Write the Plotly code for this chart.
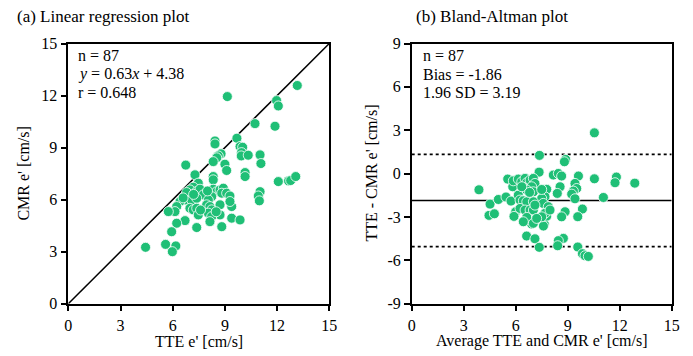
import plotly.graph_objects as go

# ---------------- data: (a) linear regression ----------------
tte = [9.69, 8.43, 8.43, 9.87, 10.02, 9.96, 9.94, 10.34, 11.02, 11.07,
       8.78, 8.62, 8.53, 8.33, 6.75, 9.00, 9.10, 10.16, 10.16, 7.28,
       8.33, 8.33, 12.07,
       7.47, 7.18, 6.99, 6.80, 7.38, 7.57, 7.76, 8.33, 8.53, 8.72,
       8.91, 8.82, 9.10, 9.29, 8.24, 8.05, 6.71, 6.42, 7.09, 7.38,
       11.02, 10.92, 10.98,
       6.23, 6.13, 5.75, 6.99, 7.18, 7.38, 7.47, 7.95, 8.14, 8.24,
       8.05, 8.72, 9.39, 9.29, 8.72, 8.24, 8.14, 6.71, 6.23, 5.94,
       7.38, 8.82, 9.39, 9.87,
       13.16, 9.14, 11.97, 12.07, 10.73, 11.88,
       12.66, 12.78, 13.07,
       5.59, 6.18, 5.98, 4.44,
       7.20, 6.60, 8.00, 7.60, 8.50]
cmr = [9.54, 9.38, 9.21, 9.06, 9.02, 8.71, 8.52, 8.56, 8.58, 8.08,
       8.64, 8.52, 8.41, 8.19, 7.99, 8.04, 7.68, 7.56, 7.33, 7.43,
       7.33, 7.14, 7.04,
       6.95, 6.72, 6.56, 6.41, 6.46, 6.60, 6.27, 6.60, 6.46, 6.56,
       6.66, 6.37, 6.37, 6.21, 6.17, 5.98, 5.98, 5.89, 5.98, 6.08,
       6.46, 6.21, 5.93,
       5.60, 5.31, 5.31, 5.50, 5.41, 5.50, 5.12, 5.70, 5.60, 5.41,
       5.22, 5.70, 5.60, 5.89, 5.12, 5.02, 4.73, 4.79, 4.64, 4.15,
       4.39, 4.44, 4.93, 4.83,
       12.58, 11.94, 11.71, 11.40, 10.38, 10.23,
       7.08, 7.10, 7.33,
       3.42, 3.33, 3.00, 3.25,
       6.30, 6.10, 6.50, 5.40, 5.30]

# ---------------- data: (b) Bland-Altman ----------------
ba_mean = [10.54, 7.37, 8.88, 8.81, 7.35, 10.54, 9.62, 11.81, 11.73, 12.87,
           11.06, 9.85, 9.58, 9.42, 9.52, 9.33, 9.23, 9.42, 8.75, 8.46,
           8.42, 9.58, 9.85, 10.00, 10.19, 6.63, 6.92, 7.65, 7.60, 7.79,
           3.88, 4.52, 4.46, 4.77, 5.00, 5.44, 5.73, 5.54, 5.83, 6.00,
           5.90, 5.86,
           6.15, 6.35, 6.54, 6.64, 6.83, 7.02, 7.11, 6.92, 6.44, 6.64,
           7.02, 7.79, 7.69, 7.50, 7.59, 7.88, 6.15, 6.25, 6.44, 6.64,
           7.02, 6.25, 6.54, 6.83, 7.02, 7.11, 7.69, 7.98, 7.50, 6.64,
           6.44, 7.02, 7.11, 7.36, 8.17, 8.46, 8.65, 8.56, 8.40, 8.85,
           8.65, 6.35, 7.21, 7.50, 6.80]
ba_diff = [2.82, 1.26, 0.98, 0.82, 0.10, -0.36, -0.17, -0.24, -0.63, -0.66,
           -1.65, -2.45, -2.98, -0.68, -1.03, -1.21, -1.42, -1.74, -4.48, -4.64,
           -4.99, -5.08, -5.54, -5.68, -5.73, -4.32, -3.49, -3.49, -3.63, -2.94,
           -1.12, -2.11, -2.89, -2.78, -1.79, -1.62, -1.90, -0.38, -0.91, -2.64,
           -2.96, -0.50,
           -0.38, -0.56, -0.33, -0.63, -0.45, -0.33, -0.68, -0.91, -0.96, -1.14,
           -1.26, -1.09, -1.60, -1.72, -2.06, -2.29, -1.49, -1.83, -1.88, -1.95,
           -1.95, -2.41, -2.52, -2.52, -2.52, -2.18, -2.75, -2.52, -2.99, -3.03,
           -3.33, -3.44, -4.51, -5.10, -0.10, 0.01, -0.17, -0.91, -1.37, -2.64,
           -2.99, -0.91, -3.10, -1.10, -1.30]

bias = -1.86
sd196 = 3.19

x_ticks = [0, 3, 6, 9, 12, 15]
y_ticks_a = [0, 3, 6, 9, 12, 15]
y_ticks_b = [-9, -6, -3, 0, 3, 6, 9]
y_ticktext_b = [str(v) for v in y_ticks_b]

GREEN = "#1fbf76"
FONT = "Liberation Serif"

fig = go.Figure()

marker = dict(size=10, color=GREEN, line=dict(color="white", width=0.8))

# identity line
fig.add_trace(go.Scatter(x=[0, 15], y=[0, 15], mode="lines",
                         line=dict(color="black", width=1.5),
                         xaxis="x", yaxis="y", showlegend=False, hoverinfo="skip"))
fig.add_trace(go.Scatter(x=tte, y=cmr, mode="markers", marker=marker,
                         xaxis="x", yaxis="y", showlegend=False))

# Bland-Altman lines
fig.add_trace(go.Scatter(x=[0, 15], y=[bias, bias], mode="lines",
                         line=dict(color="black", width=1.5),
                         xaxis="x2", yaxis="y2", showlegend=False, hoverinfo="skip"))
for lv in (bias + sd196, bias - sd196):
    fig.add_trace(go.Scatter(x=[0, 15], y=[lv, lv], mode="lines",
                             line=dict(color="black", width=1.8, dash="dot"),
                             xaxis="x2", yaxis="y2", showlegend=False, hoverinfo="skip"))
fig.add_trace(go.Scatter(x=ba_mean, y=ba_diff, mode="markers", marker=marker,
                         xaxis="x2", yaxis="y2", showlegend=False))

axis_common = dict(showgrid=False, zeroline=False, showline=True, linecolor="black",
                   linewidth=1.5, mirror=True, ticks="outside", ticklen=6,
                   tickwidth=1.5, tickcolor="black", automargin=False,
                   tickfont=dict(family=FONT, size=16, color="black"))

ytop = 1 - 43.5 / 356
ybot = 1 - 303.7 / 356

fig.update_layout(
    width=693, height=356,
    margin=dict(l=0, r=0, t=0, b=0, pad=0, autoexpand=False),
    paper_bgcolor="white", plot_bgcolor="white",
    font=dict(family=FONT, size=15, color="black"),
    xaxis=dict(domain=[68.3 / 693, 329.3 / 693], range=[0, 15], tickvals=x_ticks,
               anchor="y", **axis_common),
    yaxis=dict(domain=[ybot, ytop], range=[0, 15], tickvals=y_ticks_a,
               anchor="x", **axis_common),
    xaxis2=dict(domain=[411.7 / 693, 671.7 / 693], range=[0, 15], tickvals=x_ticks,
                anchor="y2", **axis_common),
    yaxis2=dict(domain=[ybot, ytop], range=[-9, 9], tickvals=y_ticks_b,
                ticktext=y_ticktext_b, anchor="x2", **axis_common),
)

ann = []
# panel titles
ann.append(dict(text="(a) Linear regression plot", x=15 / 693, y=1 - 16 / 356,
                xref="paper", yref="paper", xanchor="left", yanchor="middle",
                showarrow=False, font=dict(family=FONT, size=17)))
ann.append(dict(text="(b) Bland-Altman plot", x=414 / 693, y=1 - 16 / 356,
                xref="paper", yref="paper", xanchor="left", yanchor="middle",
                showarrow=False, font=dict(family=FONT, size=17)))
# axis titles
ann.append(dict(text="TTE e' [cm/s]", x=198.8 / 693, y=1 - 341 / 356,
                xref="paper", yref="paper", xanchor="center", yanchor="middle",
                showarrow=False, font=dict(family=FONT, size=16)))
ann.append(dict(text="Average TTE and CMR e' [cm/s]", x=541.7 / 693, y=1 - 341 / 356,
                xref="paper", yref="paper", xanchor="center", yanchor="middle",
                showarrow=False, font=dict(family=FONT, size=16)))
ann.append(dict(text="CMR e' [cm/s]", x=24 / 693, y=(ytop + ybot) / 2,
                xref="paper", yref="paper", xanchor="center", yanchor="middle",
                textangle=-90, showarrow=False, font=dict(family=FONT, size=16)))
ann.append(dict(text="TTE - CMR e' [cm/s]", x=372 / 693, y=(ytop + ybot) / 2,
                xref="paper", yref="paper", xanchor="center", yanchor="middle",
                textangle=-90, showarrow=False, font=dict(family=FONT, size=16)))

# stats text
stats_a = ["n = 87", "<i>y</i> = 0.63<i>x</i> + 4.38", "r = 0.648"]
stats_b = ["n = 87", "Bias = -1.86", "1.96 SD = 3.19"]
ys = [0.952, 0.881, 0.812]
for t, yy in zip(stats_a, ys):
    ann.append(dict(text=t, x=0.03, y=yy, xref="x domain", yref="y domain",
                    xanchor="left", yanchor="middle", showarrow=False,
                    font=dict(family=FONT, size=16)))
for t, yy in zip(stats_b, ys):
    ann.append(dict(text=t, x=0.035, y=yy, xref="x2 domain", yref="y2 domain",
                    xanchor="left", yanchor="middle", showarrow=False,
                    font=dict(family=FONT, size=16)))

fig.update_layout(annotations=ann)
fig.write_html("out.html",
               config={"displayModeBar": False},
               post_script="document.body.style.margin='0';document.body.style.overflow='hidden';")
